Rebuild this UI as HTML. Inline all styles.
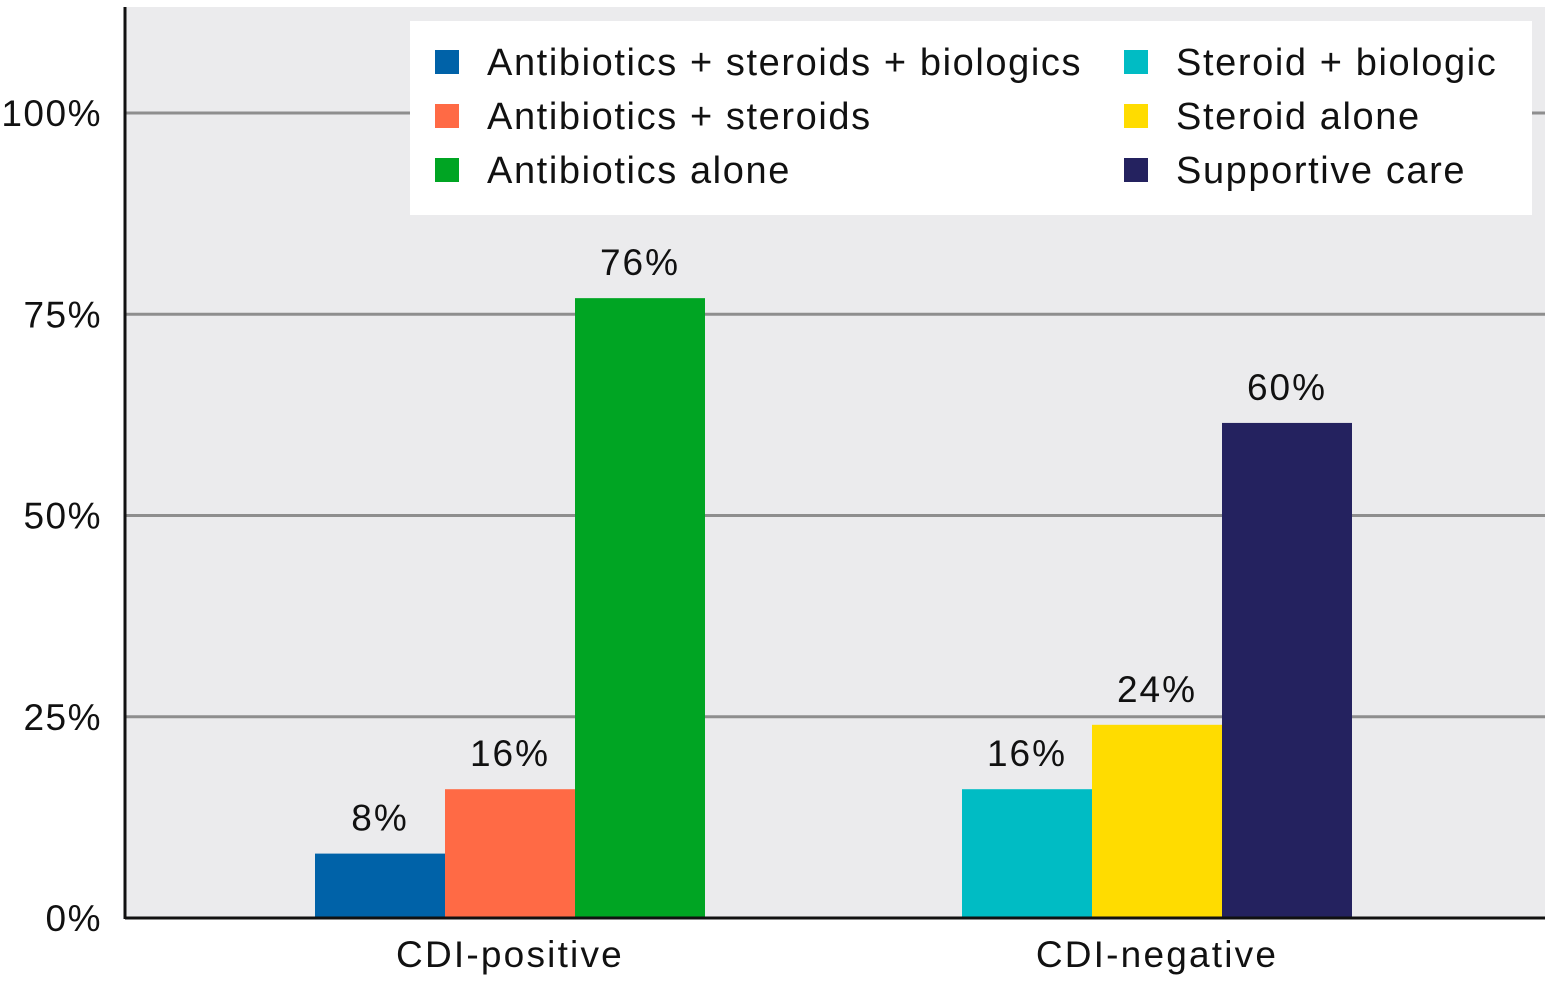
<!DOCTYPE html>
<html><head><meta charset="utf-8"><style>
html,body{margin:0;padding:0;background:#fff;}
svg{display:block;font-family:"Liberation Sans",sans-serif;}
</style></head><body>
<svg id="chart" width="1553" height="984" viewBox="0 0 1553 984"></svg>
<script>
const categories = ["CDI-positive", "CDI-negative"];
const seriesNames = ["Antibiotics + steroids + biologics","Antibiotics + steroids","Antibiotics alone","Steroid + biologic","Steroid alone","Supportive care"];
const seriesColors = ["#0062a8","#ff6a45","#00a523","#00bcc4","#ffdc00","#24225f"];
const groupValues = [[8,16,77],[16,24,61.5]];
const groupLabels = [["8%","16%","76%"],["16%","24%","60%"]];
const groupSeries = [[0,1,2],[3,4,5]];
const yTicks = [0,25,50,75,100];
const yTickLabels = ["0%","25%","50%","75%","100%"];

const NS="http://www.w3.org/2000/svg";
const svg=document.getElementById('chart');
function mk(tag,attrs,parent){const e=document.createElementNS(NS,tag);for(const k in attrs)e.setAttribute(k,attrs[k]);(parent||svg).appendChild(e);return e;}
const y0=918, yTop=113, x0=125, x1=1545;
const yScale=v=>y0-(v/100)*(y0-yTop);
const xCenter=i=>510+i*647;
const barW=130;

const bg=mk('rect',{x:x0,y:7,width:x1-x0,height:y0-7,fill:'#ebebed'});



yTicks.forEach((t,i)=>{
  if(t>0){const g=mk('line',{x1:x0,x2:x1,y1:yScale(t),y2:yScale(t),stroke:'#8e8e8e','stroke-width':3});
  
  }
  const tx=mk('text',{x:102,y:yScale(t)+13,'text-anchor':'end','font-size':37,'letter-spacing':1.5,fill:'#111'});
  tx.textContent=yTickLabels[i];
  
  
});

categories.forEach((c,ci)=>{
  const vals=groupValues[ci];
  const start=xCenter(ci)-vals.length*barW/2;
  vals.forEach((v,j)=>{
    const x=start+j*barW;
    const r=mk('rect',{x:x,y:yScale(v),width:barW,height:y0-yScale(v),fill:seriesColors[groupSeries[ci][j]]});
    
    
    const l=mk('text',{x:x+barW/2,y:yScale(v)-23,'text-anchor':'middle','font-size':37,'letter-spacing':2,fill:'#111'});
    l.textContent=groupLabels[ci][j];
    
    
  });
  const cl=mk('text',{x:xCenter(ci),y:967,'text-anchor':'middle','font-size':37,'letter-spacing':2.2,fill:'#111'});
  cl.textContent=c;
  
  
});

const ax=mk('line',{x1:x0,x2:x0,y1:7,y2:y0+1,stroke:'#111','stroke-width':3});


const bx=mk('line',{x1:x0,x2:x1,y1:y0,y2:y0,stroke:'#111','stroke-width':3});



const lg=mk('g',{});


mk('rect',{x:410,y:21,width:1122,height:194,fill:'#fff'},lg);
seriesNames.forEach((n,i)=>{
  const col=Math.floor(i/3), row=i%3;
  const lx=col?1124:435, ly=62+row*54;
  const e=mk('g',{},lg);
  
  
  mk('rect',{x:lx,y:ly-12,width:24,height:24,fill:seriesColors[i]},e);
  const t=mk('text',{x:lx+52,y:ly+13,'font-size':38,'letter-spacing':1.6,fill:'#111'},e);
  t.textContent=n;
});
</script>
</body></html>
